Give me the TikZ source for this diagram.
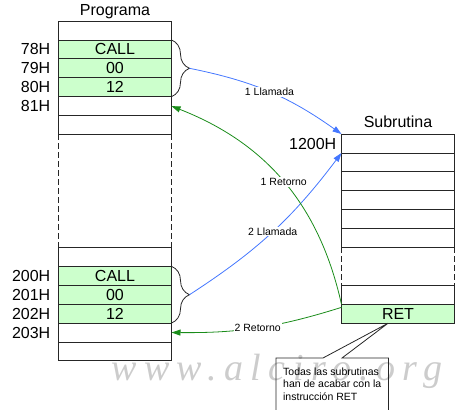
\documentclass[tikz,border=0pt]{standalone}
\usepackage{fontspec}
\setmainfont{Liberation Sans}
\newfontfamily\marcafont[LetterSpace=20]{Liberation Serif}
\usepackage{tikz}
\usetikzlibrary{positioning}
\usetikzlibrary{calc}
\usetikzlibrary{arrows.meta}
\usetikzlibrary{decorations.pathreplacing}

\definecolor{verdeclaro}{RGB}{204,255,204}
\definecolor{azul}{RGB}{68,119,255}
\definecolor{verde}{RGB}{26,140,26}

\begin{document}
\begin{tikzpicture}[x=1pt, y=-1pt,
    celda/.style={draw=black!85, line width=0.9pt, minimum width=113pt, minimum height=18.9pt, inner sep=0pt, outer sep=0pt, font=\fontsize{16}{19}\selectfont},
    instr/.style={fill=verdeclaro},
    lado/.style={draw=black!85, line width=0.9pt, dash pattern=on 6pt off 3pt},
    direccion/.style={inner sep=0pt, font=\fontsize{16}{19}\selectfont},
    titulo/.style={inner sep=0pt, font=\fontsize{16}{19}\selectfont},
    llave/.style={draw=black!85, line width=0.8pt, decorate, decoration={brace, amplitude=18pt}},
    llamada/.style={draw=azul, line width=0.8pt, -{Triangle[length=9pt,width=6pt]}},
    retorno/.style={draw=verde, line width=0.8pt, -{Triangle[length=9pt,width=6pt]}},
    etiqueta/.style={fill=white, inner sep=1pt, font=\fontsize{10.5}{12.5}\selectfont},
    nota/.style={minimum width=112pt, minimum height=52pt, inner xsep=5pt, align=left, font=\fontsize{10.5}{12.5}\selectfont},
    marca/.style={text=black!20, font=\marcafont\itshape\fontsize{38}{44}\selectfont}
]
\useasboundingbox (0,0) rectangle (456,410);

% Watermark
\node[marca, anchor=base] (marca) at (277,380) {www.alciro.org};

% Program memory
\node[celda] (p0) at (115,30.5) {};
\node[celda, instr, below=0pt of p0] (p1) {CALL};
\node[celda, instr, below=0pt of p1] (p2) {00};
\node[celda, instr, below=0pt of p2] (p3) {12};
\node[celda, below=0pt of p3] (p4) {};
\node[celda, below=0pt of p4] (p5) {};

\node[celda, below=113pt of p5] (q0) {};
\node[celda, instr, below=0pt of q0] (q1) {CALL};
\node[celda, instr, below=0pt of q1] (q2) {00};
\node[celda, instr, below=0pt of q2] (q3) {12};
\node[celda, below=0pt of q3] (q4) {};
\node[celda, below=0pt of q4] (q5) {};

\draw[lado] (p5.south west) -- (q0.north west);
\draw[lado] (p5.south east) -- (q0.north east);

\node[titulo, above=2pt of p0] (tprog) {Programa};

% Addresses
\node[direccion, left=8pt of p1] (d78) {78H};
\node[direccion, left=8pt of p2] (d79) {79H};
\node[direccion, left=8pt of p3] (d80) {80H};
\node[direccion, left=8pt of p4] (d81) {81H};
\node[direccion, left=8pt of q1] (d200) {200H};
\node[direccion, left=8pt of q2] (d201) {201H};
\node[direccion, left=8pt of q3] (d202) {202H};
\node[direccion, left=8pt of q4] (d203) {203H};

% Subroutine memory
\node[celda] (s0) at (398,143.5) {};
\node[celda, below=0pt of s0] (s1) {};
\node[celda, below=0pt of s1] (s2) {};
\node[celda, below=0pt of s2] (s3) {};
\node[celda, below=0pt of s3] (s4) {};
\node[celda, below=0pt of s4] (s5) {};

\node[celda, below=38pt of s5] (t0) {};
\node[celda, instr, below=0pt of t0] (ret) {RET};

\draw[lado] (s5.south west) -- (t0.north west);
\draw[lado] (s5.south east) -- (t0.north east);

\node[titulo, above=6pt of s0] (tsub) {Subrutina};
\node[direccion, left=5pt of s0] (d1200) {1200H};

% Braces round the CALL instructions
\draw[llave] (p1.north east) -- (p3.south east);
\draw[llave] (q1.north east) -- (q3.south east);
\coordinate (punta1) at ($(p2.east)+(18,0)$);
\coordinate (punta2) at ($(q2.east)+(18,0)$);

% Calls and returns
\draw[llamada] (punta1) to[bend left=12] node[etiqueta] {1 Llamada} (s0.north west);
\draw[llamada] (punta2) to[bend right=10] node[etiqueta] {2 Llamada} (s1.north west);
\draw[retorno] (ret.north west) to[bend right=28] node[etiqueta] {1 Retorno} (p4.east);
\draw[retorno] ([yshift=-3pt]ret.north west) to[bend left=9] node[etiqueta] {2 Retorno} (q4.east);

% Callout
\node[nota, anchor=north west] (nota) at (276,358) {Todas las subrutinas\\han de acabar con la\\instrucción RET};
\coordinate (flecha) at ([xshift=-10pt]ret.south);
\draw[black!85, line width=0.8pt] ([xshift=47pt]nota.north west) -- (nota.north west) -- (nota.south west)
    -- (nota.south east) -- (nota.north east) -- ([xshift=66pt]nota.north west) -- (flecha)
    -- cycle;

\end{tikzpicture}
\end{document}
